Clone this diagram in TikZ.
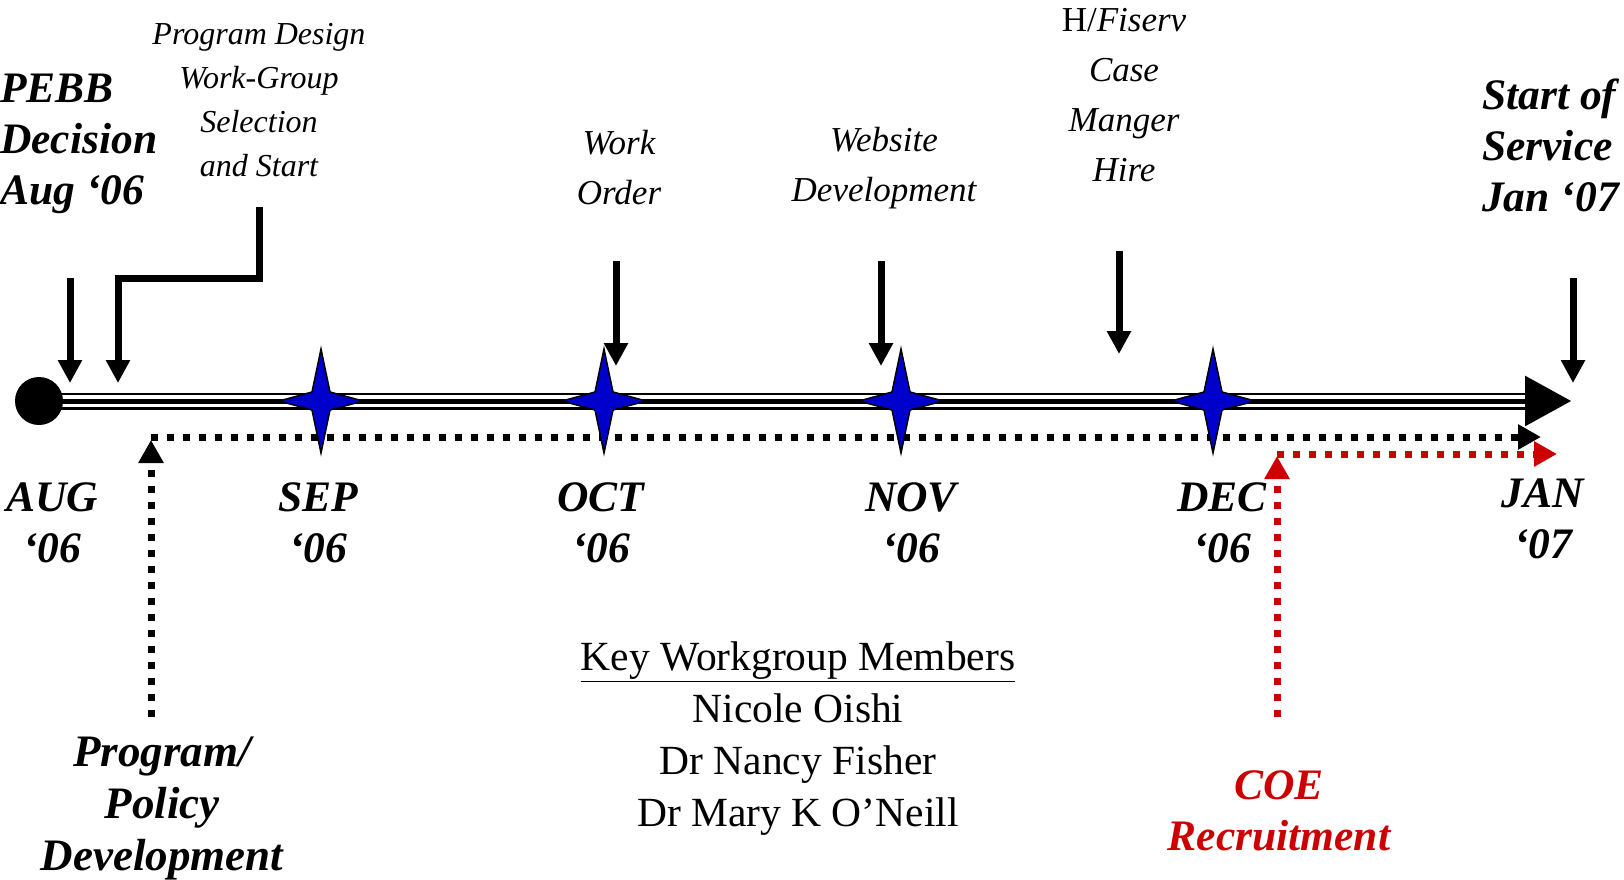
\documentclass[tikz,border=0pt]{standalone}
\usepackage{fontspec}
\setmainfont{Liberation Serif}
\usetikzlibrary{arrows.meta,positioning}
\definecolor{starblue}{RGB}{0,0,204}
\definecolor{coered}{RGB}{204,0,0}

\begin{document}
\begin{tikzpicture}[x=1pt, y=-1pt,
    bigbi/.style={inner sep=0pt, align=center, font=\fontsize{43.5}{51}\selectfont\bfseries\itshape},
    note/.style={inner sep=0pt, align=center, font=\fontsize{35}{50}\selectfont\itshape},
    members/.style={inner sep=0pt, align=center, font=\fontsize{41.5}{52}\selectfont},
    drop/.style={line width=7pt, -{Triangle[length=23pt,width=23pt]}},
    dots/.style={line width=7pt, dash pattern=on 7pt off 9pt, -{Triangle[length=23pt,width=24pt]}},
    spark/.style={draw=black, line width=1.5pt, fill=starblue}]

    \useasboundingbox (0,0) rectangle (1624,880);

    % time line
    \coordinate (origin) at (39,401);
    \coordinate (tlend) at (1572,401);
    \draw[line width=17pt, -{Triangle[length=47pt,width=47pt]}] (origin) -- (tlend);
    \draw[white, line width=12pt, shorten >=47pt] (origin) -- (tlend);
    \draw[line width=5pt, shorten >=47pt] (origin) -- (tlend);
    \node[circle, fill=black, minimum size=48pt, inner sep=0pt] (dot) at (origin) {};

    % dotted tracks
    \coordinate (policytop) at (151,440);
    \coordinate (policyfoot) at (151,717);
    \coordinate (policyrun) at (151,437);
    \coordinate (policyend) at (1541,437);
    \draw[dots] (policyfoot) -- (policytop);
    \draw[dots] (policyrun) -- (policyend);

    \coordinate (coetop) at (1277,456);
    \coordinate (coefoot) at (1277,717);
    \coordinate (coerun) at (1277,454);
    \coordinate (coeend) at (1557,454);
    \draw[dots, coered] (coefoot) -- (coetop);
    \draw[dots, coered] (coerun) -- (coeend);

    \foreach \sx [count=\c] in {321,604,901,1213} {
        \coordinate (star\c) at (\sx,401);
        \draw[spark] (star\c) +(0,-52) -- +(9,-9) -- +(42,0) -- +(9,9) -- +(0,52) -- +(-9,9) -- +(-42,0) -- +(-9,-9) -- cycle;
    }

    % milestones
    \node[bigbi, anchor=west, align=left] (pebb) at (0,144) {PEBB\\Decision\\Aug ‘06};
    \node[note, font=\fontsize{32}{44}\selectfont\itshape] (design) at (259,100) {Program Design\\Work-Group\\Selection\\and Start};
    \node[note] (workorder) at (619,168) {Work\\Order};
    \node[note] (website) at (884,168) {Website\\Development};
    \node[note] (fiserv) at (1124,95) {{\upshape H/}Fiserv\\Case\\Manger\\Hire};
    \node[bigbi, anchor=west, align=left] (service) at (1482,145) {Start of\\Service\\Jan ‘07};

    \coordinate (pebbtop) at (70,278);       \coordinate (pebbtip) at (70,383);
    \coordinate (designtop) at (259,207);    \coordinate (designbend) at (259,278);
    \coordinate (designtip) at (118,383);
    \coordinate (workordertop) at (616,261); \coordinate (workordertip) at (616,366);
    \coordinate (websitetop) at (881,261);   \coordinate (websitetip) at (881,366);
    \coordinate (fiservtop) at (1119,251);   \coordinate (fiservtip) at (1119,354);
    \coordinate (servicetop) at (1573,278);  \coordinate (servicetip) at (1573,383);

    \draw[drop] (pebbtop) -- (pebbtip);
    \draw[drop] (designtop) -- (designbend) -| (designtip);
    \draw[drop] (workordertop) -- (workordertip);
    \draw[drop] (websitetop) -- (websitetip);
    \draw[drop] (fiservtop) -- (fiservtip);
    \draw[drop] (servicetop) -- (servicetip);

    % months
    \foreach \mon/\yr/\mx [count=\c] in {AUG/06/52, SEP/06/318, OCT/06/601, NOV/06/911, DEC/06/1222} {
        \node[bigbi] (month\c) at (\mx,523) {\mon\\‘\yr};
    }
    \node[bigbi] (month6) at (1543,519) {JAN\\‘07};

    \node[members] (key) at (798,739) {\underline{Key Workgroup Members}\\Nicole Oishi\\Dr Nancy Fisher\\Dr Mary K O’Neill};
    \node[bigbi, font=\fontsize{45}{52}\selectfont\bfseries\itshape] (policy) at (162,808) {Program/\\Policy\\Development};
    \node[bigbi, text=coered] (coe) at (1279,811) {COE\\Recruitment};

\end{tikzpicture}
\end{document}
